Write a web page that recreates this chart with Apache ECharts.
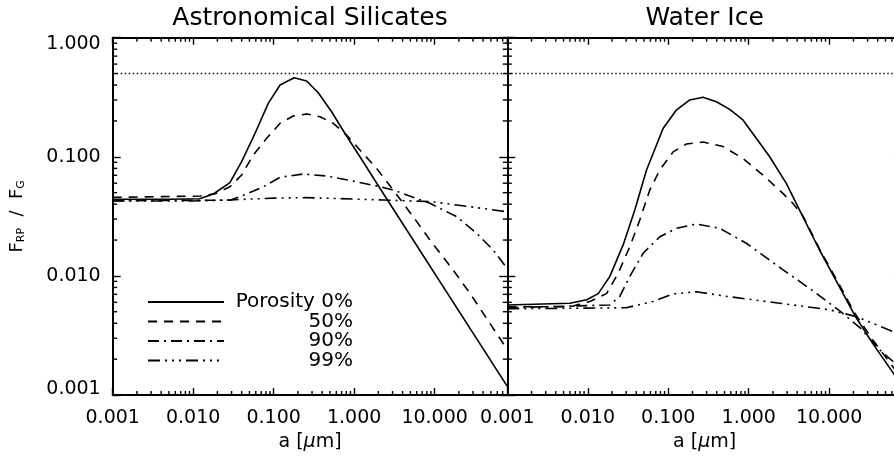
<!DOCTYPE html>
<html>
<head>
<meta charset="utf-8">
<script src="https://cdn.jsdelivr.net/npm/echarts@6/dist/echarts.min.js"></script>
<style>
  html, body { margin: 0; padding: 0; background: #fff; }
  #chart { width: 894px; height: 457px; }
</style>
</head>
<body>
<div id="chart"></div>
<script>
// ranges and labels
const xMin = 0.001, xMax = 80;
const yMin = 0.001, yMax = 1;
const limitLevel = 0.5;
const panelTitles = ['Astronomical Silicates', 'Water Ice'];
const porosityNames = ['Porosity 0%', '50%', '90%', '99%'];

// Astronomical silicates: grain size a [um] and F_RP/F_G
const silA0 = [0.001, 0.005, 0.012, 0.0178, 0.0286, 0.040, 0.0586, 0.0857, 0.120, 0.180, 0.257, 0.358, 0.525, 0.769, 1.18, 2.09, 80];
const silF0 = [0.044, 0.044, 0.0445, 0.0487, 0.0606, 0.091, 0.157, 0.281, 0.401, 0.461, 0.433, 0.345, 0.239, 0.157, 0.100, 0.0544, 0.00118];
const silA50 = [0.001, 0.0122, 0.0187, 0.0286, 0.040, 0.0558, 0.0819, 0.120, 0.175, 0.257, 0.376, 0.550, 0.807, 1.18, 1.90, 3.06, 5.42, 8.75, 17.0, 27.5, 48.6, 80];
const silF50 = [0.0457, 0.0468, 0.049, 0.0561, 0.0703, 0.1036, 0.143, 0.191, 0.220, 0.229, 0.217, 0.191, 0.152, 0.114, 0.080, 0.0526, 0.0314, 0.020, 0.0112, 0.00714, 0.0040, 0.0024];
const silA90 = [0.001, 0.0286, 0.0462, 0.0743, 0.120, 0.233, 0.455, 0.975, 2.09, 3.06, 8.75, 18.8, 33.2, 53.5, 80];
const silF90 = [0.0428, 0.0432, 0.0487, 0.056, 0.0673, 0.0717, 0.069, 0.0625, 0.0561, 0.0526, 0.0407, 0.0314, 0.0228, 0.0165, 0.0115];
const silA99 = [0.001, 0.01, 0.03, 0.1, 0.25, 0.5, 2.3, 8.75, 27.5, 80];
const silF99 = [0.0425, 0.0425, 0.0435, 0.045, 0.0454, 0.0448, 0.0434, 0.0421, 0.0381, 0.0345];

// Water ice
const iceA0 = [0.001, 0.006, 0.0097, 0.0135, 0.0188, 0.0275, 0.0384, 0.0537, 0.0862, 0.126, 0.185, 0.270, 0.396, 0.580, 0.847, 1.24, 1.82, 2.93, 4.70, 7.58, 13.4, 20.6, 34.8, 62.8, 80];
const iceF0 = [0.0057, 0.0059, 0.0063, 0.0071, 0.0099, 0.0182, 0.0357, 0.0775, 0.173, 0.247, 0.300, 0.316, 0.290, 0.250, 0.204, 0.143, 0.100, 0.0599, 0.0314, 0.0165, 0.0081, 0.0047, 0.0027, 0.00152, 0.00117];
const iceA50 = [0.001, 0.006, 0.0106, 0.0171, 0.0238, 0.0333, 0.0443, 0.0589, 0.0785, 0.115, 0.168, 0.270, 0.479, 0.847, 1.50, 2.66, 3.53, 4.70, 7.58, 13.4, 20.6, 34.8, 62.8, 80];
const iceF50 = [0.0055, 0.0055, 0.0061, 0.0071, 0.0105, 0.0176, 0.0295, 0.0526, 0.0775, 0.110, 0.128, 0.133, 0.122, 0.097, 0.0703, 0.0493, 0.0407, 0.032, 0.0168, 0.0084, 0.0049, 0.0029, 0.0017, 0.0014];
const iceA90 = [0.001, 0.0188, 0.0249, 0.0333, 0.0487, 0.0785, 0.126, 0.224, 0.435, 0.933, 2.42, 6.26, 13.4, 23.8, 42.1, 62.8, 80];
const iceF90 = [0.0054, 0.0057, 0.0067, 0.0099, 0.0155, 0.0213, 0.0251, 0.0273, 0.0251, 0.0188, 0.0118, 0.0075, 0.0051, 0.0037, 0.0024, 0.0019, 0.0016];
const iceA99 = [0.001, 0.03, 0.0648, 0.115, 0.224, 0.58, 2.42, 10, 21.8, 62.8, 80];
const iceF99 = [0.0053, 0.0054, 0.0061, 0.00705, 0.00736, 0.00668, 0.0059, 0.0052, 0.00454, 0.0034, 0.0031];

const FONT = "'DejaVu Sans', sans-serif";
const dashes = ['solid', [9, 7], [11, 5, 2, 5], [12, 5, 2, 5, 2, 5, 2, 5]];

// minor tick values (2..9 per decade)
function minorVals(lo, hi) {
  const out = [];
  for (let d = Math.floor(Math.log10(lo)); d <= Math.ceil(Math.log10(hi)); d++) {
    for (let k = 2; k <= 9; k++) {
      const v = k * Math.pow(10, d);
      if (v > lo * 1.0001 && v < hi * 0.9999) out.push(v);
    }
  }
  return out;
}

const black = { color: '#000', width: 2 };
const tickStyle = { color: '#000', width: 1.4 };

function logX(gi, pos, showLabels) {
  return {
    gridIndex: gi, type: 'log', logBase: 10, min: xMin, max: xMax, interval: 1, position: pos,
    axisLine: { show: true, onZero: false, lineStyle: black },
    axisTick: { show: true, inside: true, length: 7, lineStyle: tickStyle },
    axisLabel: {
      show: showLabels, margin: 14, color: '#000', fontFamily: FONT, fontSize: 19,
      showMaxLabel: false, formatter: v => v.toFixed(3)
    },
    splitLine: { show: false },
    name: showLabels ? 'a [{mu|\u03bc}m]' : '',
    nameLocation: 'middle', nameGap: 34,
    nameTextStyle: {
      color: '#000', fontFamily: FONT, fontSize: 19,
      rich: { mu: { fontStyle: 'italic', fontFamily: FONT, fontSize: 19, color: '#000' } }
    }
  };
}
function logY(gi, pos, showLabels) {
  return {
    gridIndex: gi, type: 'log', logBase: 10, min: yMin, max: yMax, interval: 1, position: pos,
    axisLine: { show: true, onZero: false, lineStyle: black },
    axisTick: { show: true, inside: true, length: 8, lineStyle: tickStyle },
    axisLabel: {
      show: showLabels, margin: 12, color: '#000', fontFamily: FONT, fontSize: 19,
      formatter: v => {
        const s = v.toFixed(3);
        if (Math.abs(v - yMax) < 1e-9) return '{top|' + s + '}';
        if (Math.abs(v - yMin) < 1e-9) return '{bot|' + s + '}';
        return s;
      },
      rich: {
        top: { padding: [12, 0, 0, 0], fontFamily: FONT, fontSize: 19, color: '#000' },
        bot: { padding: [0, 0, 12, 0], fontFamily: FONT, fontSize: 19, color: '#000' }
      }
    },
    splitLine: { show: false },
    name: showLabels ? '{m|F}{s|RP}  {m|/  F}{s|G}' : '',
    nameLocation: 'middle', nameRotate: 90, nameGap: 86,
    nameTextStyle: {
      color: '#000', fontFamily: FONT, fontSize: 18,
      rich: {
        m: { fontFamily: FONT, fontSize: 18, color: '#000' },
        s: { fontFamily: FONT, fontSize: 11, color: '#000', verticalAlign: 'bottom' }
      }
    }
  };
}

// short inward tick marks at 2..9 of each decade, placed through the axes
function minorTicks(gi, dir) {
  const vals = dir === 'x' ? minorVals(xMin, xMax) : minorVals(yMin, yMax);
  return {
    type: 'custom', coordinateSystem: 'cartesian2d', xAxisIndex: gi * 2, yAxisIndex: gi * 2,
    silent: true, clip: false, z: 5,
    encode: { x: 0, y: 1 },
    data: vals.map(v => (dir === 'x' ? [v, yMin] : [xMin, v])),
    renderItem: (params, api) => {
      const st = { stroke: '#000', lineWidth: 1.4, fill: null };
      if (dir === 'x') {
        const v = api.value(0);
        const b = api.coord([v, yMin]), t = api.coord([v, yMax]);
        return { type: 'group', children: [
          { type: 'line', shape: { x1: b[0], y1: b[1], x2: b[0], y2: b[1] - 4 }, style: st },
          { type: 'line', shape: { x1: t[0], y1: t[1], x2: t[0], y2: t[1] + 4 }, style: st }
        ] };
      }
      const v = api.value(1);
      const l = api.coord([xMin, v]), r = api.coord([xMax, v]);
      return { type: 'group', children: [
        { type: 'line', shape: { x1: l[0], y1: l[1], x2: l[0] + 4.5, y2: l[1] }, style: st },
        { type: 'line', shape: { x1: r[0], y1: r[1], x2: r[0] - 4.5, y2: r[1] }, style: st }
      ] };
    }
  };
}

function curve(gi, k, xs, ys) {
  const s = {
    name: porosityNames[k], type: 'line', xAxisIndex: gi * 2, yAxisIndex: gi * 2,
    data: xs.map((x, i) => [x, ys[i]]),
    symbol: 'none', showSymbol: false, silent: true,
    lineStyle: { color: '#000', width: 1.6, type: dashes[k] },
    itemStyle: { color: '#000' },
    emphasis: { disabled: true }
  };
  if (k === 0) {
    s.markLine = {
      silent: true, symbol: ['none', 'none'], label: { show: false },
      lineStyle: { color: '#000', width: 1.4, type: [1.4, 2.6] },
      data: [{ yAxis: limitLevel }]
    };
  }
  return s;
}

const chart = echarts.init(document.getElementById('chart'));
chart.setOption({
  animation: false,
  backgroundColor: '#fff',
  title: panelTitles.map((t, i) => ({
    text: t, left: i === 0 ? 310 : 704.6, top: 6, padding: 0, textAlign: 'center',
    textStyle: { fontFamily: FONT, fontSize: 25, fontWeight: 'normal', color: '#000' }
  })),
  legend: {
    orient: 'vertical', left: 142, top: 287, itemWidth: 76, itemHeight: 12, itemGap: -0.5,
    selectedMode: false, data: porosityNames,
    itemStyle: { color: 'rgba(0,0,0,0)', borderWidth: 0, opacity: 0 },
    formatter: n => '{r|' + n + '}',
    textStyle: {
      color: '#000', fontFamily: FONT, fontSize: 20,
      rich: { r: { width: 124, align: 'right', fontFamily: FONT, fontSize: 20, color: '#000' } }
    }
  },
  grid: [
    { left: 112.7, top: 37.7, width: 394.6, height: 357.3, outerBoundsMode: 'none' },
    { left: 507.3, top: 37.7, width: 394.6, height: 357.3, outerBoundsMode: 'none' }
  ],
  xAxis: [logX(0, 'bottom', true), logX(0, 'top', false), logX(1, 'bottom', true), logX(1, 'top', false)],
  yAxis: [logY(0, 'left', true), logY(0, 'right', false), logY(1, 'left', false), logY(1, 'right', false)],
  series: [
    curve(0, 0, silA0, silF0), curve(0, 1, silA50, silF50), curve(0, 2, silA90, silF90), curve(0, 3, silA99, silF99),
    curve(1, 0, iceA0, iceF0), curve(1, 1, iceA50, iceF50), curve(1, 2, iceA90, iceF90), curve(1, 3, iceA99, iceF99),
    minorTicks(0, 'x'), minorTicks(0, 'y'), minorTicks(1, 'x'), minorTicks(1, 'y')
  ]
});
window.addEventListener('resize', () => chart.resize());
</script>
</body>
</html>
